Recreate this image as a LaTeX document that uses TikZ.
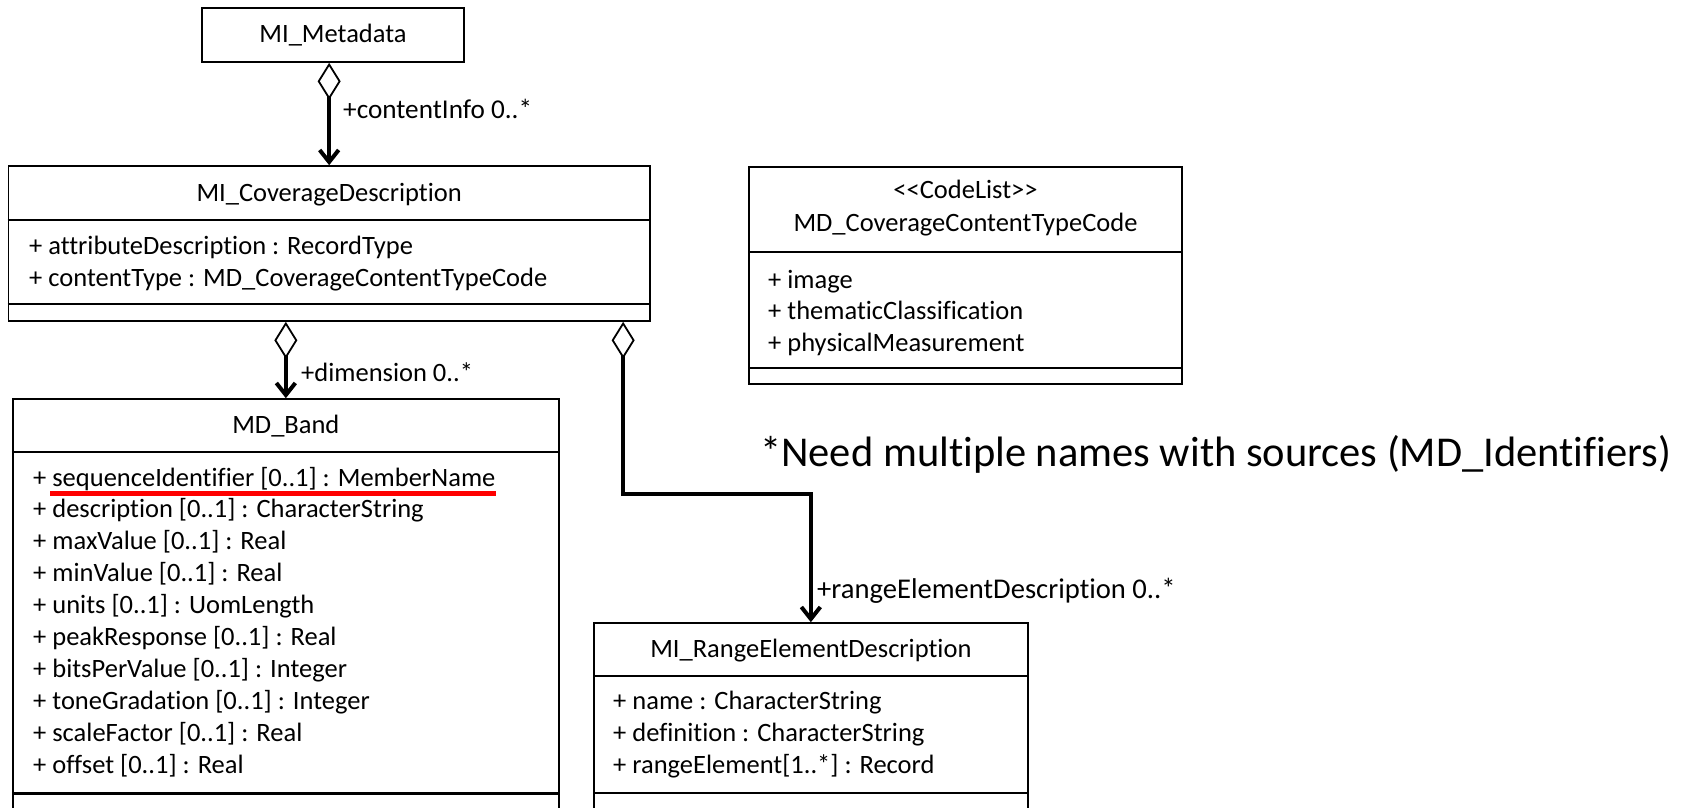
\documentclass[tikz,border=0pt]{standalone}
\usepackage{fontspec}
\setmainfont{Carlito}[Ligatures={TeXOff,NoCommon}]
\usetikzlibrary{arrows.meta}
\tikzset{
  cls/.style={draw=black, line width=1.6pt, inner sep=0pt, rectangle},
  sepline/.style={line width=2.4pt},
  txt/.style={inner sep=0pt, anchor=base west, font=\fontsize{26.5}{31.9}\selectfont},
  ttl/.style={inner sep=0pt, anchor=base, font=\fontsize{26.5}{31.9}\selectfont},
  note/.style={inner sep=0pt, anchor=base west, font=\fontsize{42.5}{50}\selectfont},
  assoc/.style={line width=4pt,
    arrows={Diamond[open,length=37pt,width=23pt,line width=1.8pt]-Straight Barb[length=12pt,width=19pt]}},
  redmark/.style={draw=red, line width=4.5pt}
}
\begin{document}
\begin{tikzpicture}[x=1pt,y=-1pt]
\useasboundingbox[fill=white] (0,0) rectangle (1683,807);

% MI_Metadata
\node[cls, minimum width=262pt, minimum height=54pt, font=\fontsize{26.5}{31.9}\selectfont] (meta) at (333,35) {MI\_Metadata};

% MI_CoverageDescription
\node[cls, minimum width=641.7pt, minimum height=155pt] (cov) at (329.15,243.5) {};
\draw[sepline] (cov.west |- 0,220) -- (cov.east |- 0,220);
\draw[sepline] (cov.west |- 0,304) -- (cov.east |- 0,304);
\node[ttl] (covt) at (329.15,201.5) {MI\_CoverageDescription};
\node[txt] (cova1) at (29,254.5) {+ attributeDescription : RecordType};
\node[txt] (cova2) at (29,286) {+ contentType : MD\_CoverageContentTypeCode};

% CodeList
\node[cls, minimum width=433pt, minimum height=217pt] (code) at (965.5,275.5) {};
\draw[sepline] (code.west |- 0,252) -- (code.east |- 0,252);
\draw[sepline] (code.west |- 0,368) -- (code.east |- 0,368);
\node[ttl] (codes) at (965.5,198.5) {<<CodeList>>};
\node[ttl] (codet) at (965.5,231) {MD\_CoverageContentTypeCode};
\node[txt] (code1) at (768,288) {+ image};
\node[txt] (code2) at (768,319.7) {+ thematicClassification};
\node[txt] (code3) at (768,351) {+ physicalMeasurement};

% MD_Band
\node[cls, minimum width=546.3pt, minimum height=421pt] (band) at (285.85,609.5) {};
\draw[sepline] (band.west |- 0,452) -- (band.east |- 0,452);
\draw[sepline] (band.west |- 0,793.3) -- (band.east |- 0,793.3);
\node[ttl] (bandt) at (285.85,433) {MD\_Band};
\node[txt] (b1) at (33,486) {+ sequenceIdentifier [0..1] : MemberName};
\node[txt] (b2) at (33,517.9) {+ description [0..1] : CharacterString};
\node[txt] (b3) at (33,549.8) {+ maxValue [0..1] : Real};
\node[txt] (b4) at (33,581.7) {+ minValue [0..1] : Real};
\node[txt] (b5) at (33,613.6) {+ units [0..1] : UomLength};
\node[txt] (b6) at (33,645.5) {+ peakResponse [0..1] : Real};
\node[txt] (b7) at (33,677.4) {+ bitsPerValue [0..1] : Integer};
\node[txt] (b8) at (33,709.3) {+ toneGradation [0..1] : Integer};
\node[txt] (b9) at (33,741.2) {+ scaleFactor [0..1] : Real};
\node[txt] (b10) at (33,773.1) {+ offset [0..1] : Real};
\draw[redmark] ([shift={(17,7.5)}]b1.base west) -- ([shift={(0,7.5)}]b1.base east);

% MI_RangeElementDescription
\node[cls, minimum width=433.7pt, minimum height=197pt] (rel) at (810.85,721.5) {};
\draw[sepline] (rel.west |- 0,676) -- (rel.east |- 0,676);
\draw[sepline] (rel.west |- 0,792.7) -- (rel.east |- 0,792.7);
\node[ttl] (relt) at (810.85,657) {MI\_RangeElementDescription};
\node[txt] (r1) at (613,709.5) {+ name : CharacterString};
\node[txt] (r2) at (613,741.3) {+ definition : CharacterString};
\node[txt] (r3) at (613,773) {+ rangeElement[1..*] : Record};

% associations
\draw[assoc] (meta.south -| cov.north) -- (cov.north);
\node[txt, font=\fontsize{27.2}{32}\selectfont] (lbl1) at (343,118) {+contentInfo 0..*};
\draw[assoc] (band.north |- cov.south) -- (band.north);
\node[txt] (lbl2) at (301,381) {+dimension 0..*};
\draw[assoc] ([xshift=294pt]cov.south) -- ++(0,172) -| (rel.north);
\node[txt, font=\fontsize{28.6}{33}\selectfont] (lbl3) at (817,598.5) {+rangeElementDescription 0..*};

% note
\node[note] (nt) at (760,466) {*Need multiple names with sources (MD\_Identifiers)};
\end{tikzpicture}
\end{document}
